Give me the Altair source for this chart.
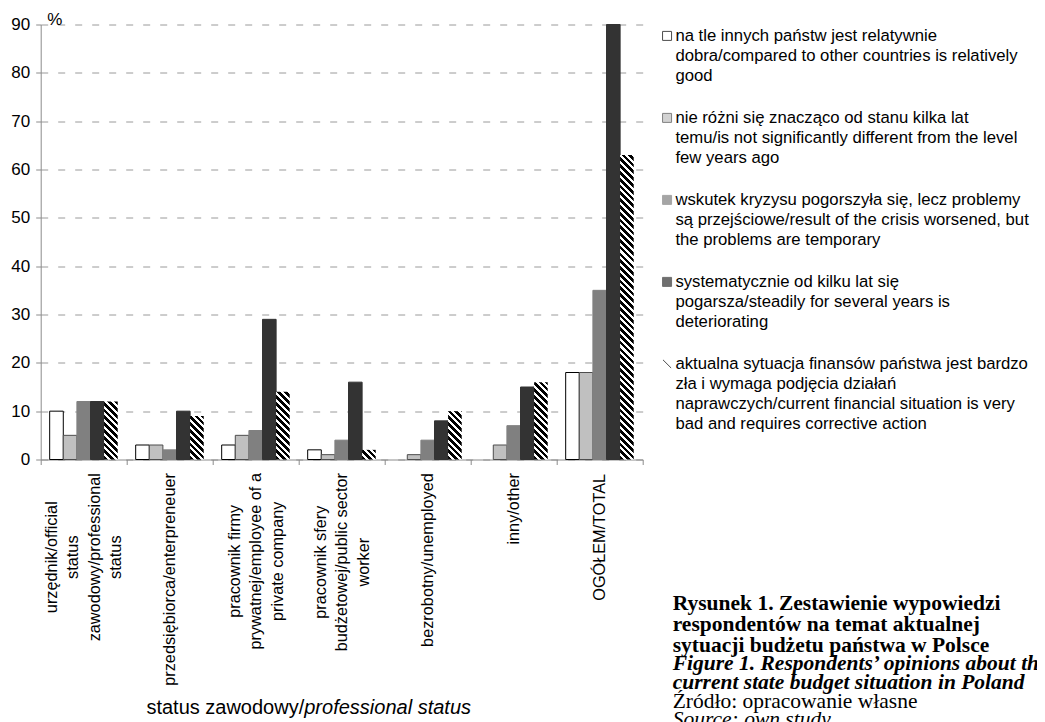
import json
import math
import altair as alt
import pandas as pd

# ---------------- data ----------------
categories = [
    "urzędnik/official\nstatus\nzawodowy/professional\nstatus",
    "przedsiębiorca/enterpreneuer",
    "pracownik firmy\nprywatnej/employee of a\nprivate company",
    "pracownik sfery\nbudżetowej/public sector\nworker",
    "bezrobotny/unemployed",
    "inny/other",
    "OGÓŁEM/TOTAL",
]
series = [
    "na tle innych państw jest relatywnie\ndobra/compared to other countries is relatively\ngood",
    "nie różni się znacząco od stanu kilka lat\ntemu/is not significantly different from the level\nfew years ago",
    "wskutek kryzysu pogorszyła się, lecz problemy\nsą przejściowe/result of the crisis worsened, but\nthe problems are temporary",
    "systematycznie od kilku lat się\npogarsza/steadily for several years is\ndeteriorating",
    "aktualna sytuacja finansów państwa jest bardzo\nzła i wymaga podjęcia działań\nnaprawczych/current financial situation is very\nbad and requires corrective action",
]
relatively_good = [10, 3, 3, 2, 0, 0, 18]
not_different = [5, 3, 5, 1, 1, 3, 18]
worse_temporary = [12, 2, 6, 4, 4, 7, 35]
steadily_worse = [12, 10, 29, 16, 8, 15, 90]
very_bad = [12, 9, 14, 2, 10, 16, 63]
y_ticks = [0, 10, 20, 30, 40, 50, 60, 70, 80, 90]

axis_title_parts = ["status zawodowy/", "professional status"]
caption_bold = ["Rysunek 1. Zestawienie wypowiedzi",
                "respondentów na temat aktualnej",
                "sytuacji budżetu państwa w Polsce"]
caption_bold_italic = ["Figure 1. Respondents’ opinions about the",
                       "current state budget situation in Poland"]
caption_source_pl = "Źródło: opracowanie własne"
caption_source_en = "Source: own study"

# ---------------- styles ----------------
FONT = "Liberation Sans"
SERIF = "Liberation Serif"
fills = ["#ffffff", "#c0c0c0", "#808080", "#333333", "#ffffff"]
strokes = ["#000000", "#4d4d4d", "#808080", "#333333", "#000000"]
# legend symbols: squares nudged up to sit on the first label line, hatch shown as "\"
SQ = "M-1,-2.1L1,-2.1L1,-0.1L-1,-0.1Z"
shapes = [SQ, SQ, SQ, SQ, "M-0.9,-2.0L0.9,-0.2"]
AXIS_GRAY = "#8c8c8c"

W, H = 602, 435
PAD_L, PAD_T = 32.7, 16.5
TOTAL_W, TOTAL_H = 1029, 740
Y_MAX = 90
OFF_PAD = 0.66
STEP = W / len(categories)
BAR_W = STEP / (len(series) + 2 * OFF_PAD)
XLAB_FS = 16.3
XLAB_LH = 21.5

# Arial / Liberation Sans advance widths (1/1000 em) for label centring
ARIAL = {' ': 278, '/': 278, '.': 278, ',': 278, ':': 278, '-': 333,
         'a': 556, 'b': 556, 'c': 500, 'd': 556, 'e': 556, 'f': 278, 'g': 556,
         'h': 556, 'i': 222, 'j': 222, 'k': 500, 'l': 222, 'm': 833, 'n': 556,
         'o': 556, 'p': 556, 'q': 556, 'r': 333, 's': 500, 't': 278, 'u': 556,
         'v': 500, 'w': 722, 'x': 500, 'y': 500, 'z': 500,
         'A': 667, 'E': 667, 'G': 778, 'L': 556, 'M': 833, 'O': 778, 'T': 611,
         'ę': 556, 'ą': 556, 'ż': 500, 'ó': 556, 'ł': 222, 'ń': 556, 'Ó': 778, 'Ł': 556}


def text_width(s, fs):
    return sum(ARIAL.get(ch, 556) for ch in s) / 1000.0 * fs


# ---------------- table ----------------
all_series = [relatively_good, not_different, worse_temporary, steadily_worse, very_bad]
rows = []
for ci, cat in enumerate(categories):
    for si, (ser, vals) in enumerate(zip(series, all_series)):
        rows.append({"category": cat, "series": ser, "value": vals[ci], "ci": ci, "si": si})
df = pd.DataFrame(rows)

# ---------------- axes / encodings ----------------
pad_cond, off_cond = [], []
for cat in categories:
    lines = cat.split("\n")
    mw = max(text_width(line, XLAB_FS) for line in lines)
    test = "datum.value === " + json.dumps(cat, ensure_ascii=False)
    pad_cond.append({"test": test, "value": round(8 + mw / 2.0, 1)})
    off_cond.append({"test": test, "value": round(-(len(lines) - 1) / 2.0 * XLAB_LH, 2)})

x_axis = alt.Axis(title=None, labelAngle=270, labelAlign="center", labelBaseline="middle",
                  labelExpr="split(datum.label, '\\n')", labelFont=FONT, labelFontSize=XLAB_FS,
                  labelLineHeight=XLAB_LH, labelColor="#000000", labelLimit=600, labelOverlap=False,
                  labelPadding={"condition": pad_cond, "value": 8},
                  labelOffset={"condition": off_cond, "value": 0},
                  tickBand="extent", tickSize=5, tickColor=AXIS_GRAY, domainColor=AXIS_GRAY,
                  grid=False)
y_axis = alt.Axis(values=y_ticks, title="%", titleAngle=0, titleX=6, titleY=0,
                  titleAlign="left", titleBaseline="alphabetic", titleFont=FONT,
                  titleFontSize=17, titleFontWeight="normal", titleColor="#000000",
                  labelFont=FONT, labelFontSize=17, labelColor="#000000", labelPadding=6,
                  tickSize=5, tickColor=AXIS_GRAY, domainColor=AXIS_GRAY,
                  gridColor="#9a9a9a", gridDash=[7, 10])

x_enc = alt.X("category:N", sort=categories,
              scale=alt.Scale(domain=categories, paddingInner=0, paddingOuter=0), axis=x_axis)
xo_enc = alt.XOffset("series:N", sort=series,
                     scale=alt.Scale(domain=series, paddingInner=0, paddingOuter=OFF_PAD))
y_enc = alt.Y("value:Q", scale=alt.Scale(domain=[0, Y_MAX], nice=False, zero=True), axis=y_axis)

legend = alt.Legend(
    title=None, orient="none", legendX=618, legendY=8, direction="vertical",
    labelExpr="split(datum.label, '\\n')", labelFont=FONT, labelFontSize=16.7,
    labelColor="#000000", labelLimit=600, labelOffset=0, labelBaseline="alphabetic",
    rowPadding=24, symbolSize=81, symbolStrokeWidth=1, padding=0,
)
fill_enc = alt.Fill("series:N", scale=alt.Scale(domain=series, range=fills), legend=legend)
stroke_enc = alt.Stroke("series:N", scale=alt.Scale(domain=series, range=strokes), legend=legend)
shape_enc = alt.Shape("series:N", scale=alt.Scale(domain=series, range=shapes), legend=legend)

bars = alt.Chart(df).transform_filter("datum.value > 0 && datum.si < 4").mark_bar(strokeWidth=1).encode(
    x=x_enc, xOffset=xo_enc, y=y_enc, fill=fill_enc, stroke=stroke_enc,
)

# legend-only layer (no rows survive the filter; it carries the symbol shapes)
legend_layer = alt.Chart(df).transform_filter("datum.value < 0").mark_point(
    filled=True, size=81, strokeWidth=1
).encode(fill=fill_enc, stroke=stroke_enc, shape=shape_enc)


def hatch_gradient(value):
    h = value * H / Y_MAX
    w = BAR_W
    r = h / w
    s = (1 + r) / (1 + r * r)
    period = 4.8
    frac = 0.55
    n = (w + h) / math.sqrt(2) / period
    stops = []
    k = 0
    while k / n <= 1:
        a, b, c = k / n, (k + frac) / n, (k + 1) / n
        stops.append(alt.GradientStop(color="#000000", offset=round(a, 5)))
        stops.append(alt.GradientStop(color="#000000", offset=round(min(b, 1), 5)))
        if b < 1:
            stops.append(alt.GradientStop(color="#ffffff", offset=round(b, 5)))
            stops.append(alt.GradientStop(color="#ffffff", offset=round(min(c, 1), 5)))
        k += 1
    return alt.Gradient(gradient="linear", x1=0, y1=1, x2=round(s, 6), y2=round(1 - s * r, 6),
                        stops=stops)


hatch_layers = []
for ci, v in enumerate(very_bad):
    hatch_layers.append(
        alt.Chart(df).transform_filter(f"datum.ci == {ci} && datum.si == 4")
        .mark_bar(fill=hatch_gradient(v))
        .encode(x=x_enc, xOffset=xo_enc, y=y_enc)
    )

# ---------------- texts ----------------
TITLE_FS = 20
tw0 = text_width(axis_title_parts[0], TITLE_FS)
tw1 = text_width(axis_title_parts[1], TITLE_FS)
title_cx = 268
split_x = title_cx - (tw0 + tw1) / 2 + tw0
title_y = 683.5

t0 = alt.Chart(pd.DataFrame({"t": [axis_title_parts[0]]})).mark_text(
    font=FONT, fontSize=TITLE_FS, align="right", baseline="middle", color="#000000"
).encode(text="t:N", x=alt.value(split_x), y=alt.value(title_y))
t1 = alt.Chart(pd.DataFrame({"t": [axis_title_parts[1]]})).mark_text(
    font=FONT, fontSize=TITLE_FS, fontStyle="italic", align="left", baseline="middle", color="#000000"
).encode(text="t:N", x=alt.value(split_x), y=alt.value(title_y))

CAP_X = 632
CAP_FS = 21.5
c1 = alt.Chart(pd.DataFrame({"t": ["\n".join(caption_bold)]})).mark_text(
    font=SERIF, fontSize=CAP_FS, fontWeight="bold", align="left", baseline="alphabetic",
    lineBreak="\n", lineHeight=21, color="#000000"
).encode(text="t:N", x=alt.value(CAP_X), y=alt.value(585))
c2 = alt.Chart(pd.DataFrame({"t": ["\n".join(caption_bold_italic)]})).mark_text(
    font=SERIF, fontSize=CAP_FS, fontWeight="bold", fontStyle="italic", align="left",
    baseline="alphabetic", lineBreak="\n", lineHeight=19, color="#000000"
).encode(text="t:N", x=alt.value(CAP_X), y=alt.value(645))
c3 = alt.Chart(pd.DataFrame({"t": [caption_source_pl]})).mark_text(
    font=SERIF, fontSize=CAP_FS, align="left", baseline="alphabetic", color="#000000"
).encode(text="t:N", x=alt.value(CAP_X), y=alt.value(683))
c4 = alt.Chart(pd.DataFrame({"t": [caption_source_en]})).mark_text(
    font=SERIF, fontSize=CAP_FS, fontStyle="italic", align="left", baseline="alphabetic",
    color="#000000"
).encode(text="t:N", x=alt.value(CAP_X), y=alt.value(701.5))

chart = alt.layer(bars, legend_layer, *hatch_layers, t0, t1, c1, c2, c3, c4).properties(
    width=W, height=H,
    autosize=alt.AutoSizeParams(type="none"),
    padding={"left": PAD_L, "top": PAD_T, "right": TOTAL_W - PAD_L - W,
             "bottom": TOTAL_H - PAD_T - H},
).configure(
    font=FONT, background="white", style={"guide-label": {"lineHeight": 20}}
).configure_view(stroke=None)

chart.save("out.html", embed_options={"renderer": "svg", "actions": False})
